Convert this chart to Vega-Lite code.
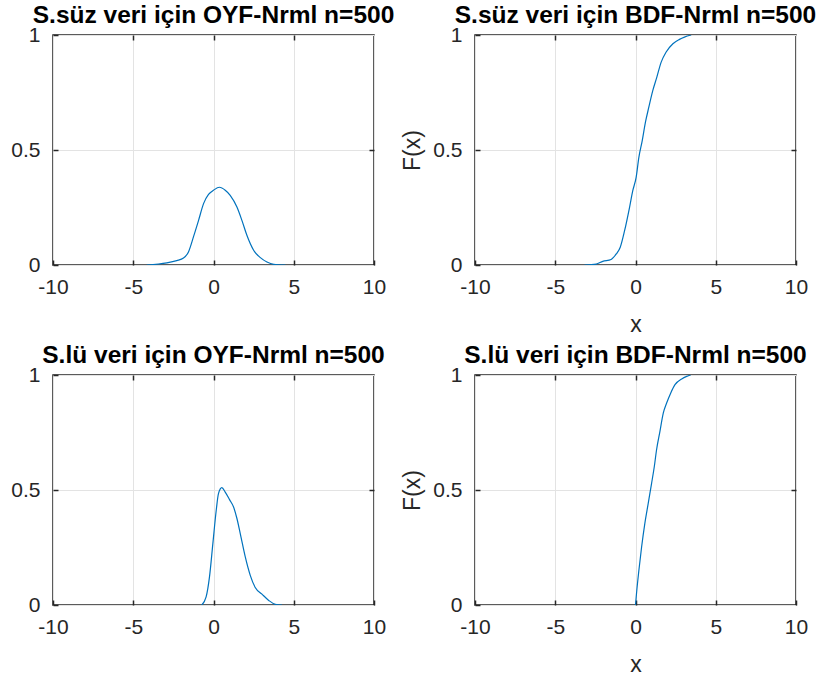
{
  "$schema": "https://vega.github.io/schema/vega-lite/v6.json",
  "autosize": {"type": "none"},
  "padding": {"left": 53, "top": 35, "right": 766, "bottom": 645},
  "background": "white",
  "datasets": {
    "pdf1": [
      {"x": -4.16, "y": 0}, {"x": -2.91, "y": 0.009}, {"x": -2.29, "y": 0.019}, {"x": -1.87, "y": 0.03},
      {"x": -1.56, "y": 0.057}, {"x": -1.25, "y": 0.122}, {"x": -0.93, "y": 0.194}, {"x": -0.62, "y": 0.267},
      {"x": -0.31, "y": 0.307}, {"x": 0.0, "y": 0.325}, {"x": 0.37, "y": 0.338}, {"x": 0.73, "y": 0.325},
      {"x": 1.04, "y": 0.303}, {"x": 1.46, "y": 0.252}, {"x": 1.77, "y": 0.194}, {"x": 2.08, "y": 0.129},
      {"x": 2.5, "y": 0.064}, {"x": 2.92, "y": 0.032}, {"x": 3.33, "y": 0.013}, {"x": 3.75, "y": 0.003},
      {"x": 4.48, "y": 0}
    ],
    "cdf1": [
      {"x": -3.18, "y": 0}, {"x": -2.45, "y": 0.004}, {"x": -2.04, "y": 0.016}, {"x": -1.52, "y": 0.024},
      {"x": -1.2, "y": 0.048}, {"x": -0.95, "y": 0.077}, {"x": -0.68, "y": 0.149}, {"x": -0.37, "y": 0.251},
      {"x": -0.17, "y": 0.323}, {"x": 0.04, "y": 0.381}, {"x": 0.21, "y": 0.468}, {"x": 0.42, "y": 0.541},
      {"x": 0.62, "y": 0.621}, {"x": 0.83, "y": 0.686}, {"x": 1.08, "y": 0.759}, {"x": 1.33, "y": 0.817},
      {"x": 1.6, "y": 0.882}, {"x": 1.91, "y": 0.926}, {"x": 2.33, "y": 0.962}, {"x": 2.74, "y": 0.981},
      {"x": 3.05, "y": 0.991}, {"x": 3.47, "y": 1.0}
    ],
    "pdf2": [
      {"x": -0.73, "y": 0}, {"x": -0.46, "y": 0.035}, {"x": -0.25, "y": 0.122}, {"x": -0.04, "y": 0.267},
      {"x": 0.17, "y": 0.412}, {"x": 0.31, "y": 0.484}, {"x": 0.52, "y": 0.51}, {"x": 0.73, "y": 0.491},
      {"x": 1.0, "y": 0.458}, {"x": 1.25, "y": 0.426}, {"x": 1.46, "y": 0.376}, {"x": 1.71, "y": 0.296},
      {"x": 1.98, "y": 0.209}, {"x": 2.29, "y": 0.129}, {"x": 2.6, "y": 0.076}, {"x": 3.02, "y": 0.047},
      {"x": 3.44, "y": 0.02}, {"x": 3.85, "y": 0.003}, {"x": 4.27, "y": 0}
    ],
    "cdf2": [
      {"x": 0.0, "y": 0}, {"x": 0.06, "y": 0.048}, {"x": 0.21, "y": 0.15}, {"x": 0.38, "y": 0.252},
      {"x": 0.58, "y": 0.354}, {"x": 0.79, "y": 0.441}, {"x": 1.0, "y": 0.528}, {"x": 1.17, "y": 0.601},
      {"x": 1.31, "y": 0.674}, {"x": 1.52, "y": 0.754}, {"x": 1.73, "y": 0.834}, {"x": 1.94, "y": 0.878},
      {"x": 2.19, "y": 0.921}, {"x": 2.46, "y": 0.958}, {"x": 2.88, "y": 0.983}, {"x": 3.19, "y": 0.994},
      {"x": 3.44, "y": 1.0}
    ]
  },
  "config": {
    "font": "Liberation Sans",
    "view": {"stroke": "#262626", "strokeWidth": 1.5},
    "axis": {
      "grid": true,
      "gridColor": "#e3e3e3",
      "gridWidth": 1,
      "domain": false,
      "ticks": true,
      "tickSize": -5,
      "tickColor": "#262626",
      "tickWidth": 1.5,
      "labelFont": "Liberation Sans",
      "labelFontSize": 21,
      "labelColor": "#262626",
      "labelFlush": false,
      "labelOverlap": false,
      "labelExpr": "'' + datum.value",
      "titleFont": "Liberation Sans",
      "titleFontSize": 23,
      "titleFontWeight": "normal",
      "titleColor": "#262626"
    },
    "axisX": {"labelPadding": 16, "titlePadding": 16},
    "axisY": {"labelPadding": 18, "titlePadding": 8},
    "title": {"font": "Liberation Sans", "fontSize": 24.5, "fontWeight": "bold", "color": "#000000", "anchor": "middle", "frame": "group", "offset": -4},
    "line": {"color": "#0072BD", "strokeWidth": 1.2, "interpolate": "monotone"}
  },
  "columns": 2,
  "spacing": {"row": 110, "column": 101},
  "bounds": "flush",
  "concat": [
    {
      "title": "S.süz veri için OYF-Nrml n=500",
      "width": 321, "height": 230,
      "data": {"name": "pdf1"},
      "resolve": {"axis": {"x": "independent", "y": "independent"}},
      "layer": [
        {
          "mark": {"type": "line", "clip": true},
          "encoding": {
            "x": {"field": "x", "type": "quantitative", "scale": {"domain": [-10, 10], "nice": false}, "axis": {"values": [-10, -5, 0, 5, 10], "title": null}},
            "y": {"field": "y", "type": "quantitative", "scale": {"domain": [0, 1], "nice": false}, "axis": {"values": [0, 0.5, 1], "title": null}}
          }
        },
        {
          "mark": {"type": "line", "opacity": 0, "clip": true},
          "encoding": {
            "x": {"field": "x", "type": "quantitative", "axis": {"orient": "top", "values": [-5, 0, 5], "labels": false, "grid": false, "title": null}},
            "y": {"field": "y", "type": "quantitative", "axis": {"orient": "right", "values": [0.5], "labels": false, "grid": false, "title": null}}
          }
        }
      ]
    },
    {
      "title": "S.süz veri için BDF-Nrml n=500",
      "width": 321, "height": 230,
      "data": {"name": "cdf1"},
      "resolve": {"axis": {"x": "independent", "y": "independent"}},
      "layer": [
        {
          "mark": {"type": "line", "clip": true},
          "encoding": {
            "x": {"field": "x", "type": "quantitative", "scale": {"domain": [-10, 10], "nice": false}, "axis": {"values": [-10, -5, 0, 5, 10], "title": "x"}},
            "y": {"field": "y", "type": "quantitative", "scale": {"domain": [0, 1], "nice": false}, "axis": {"values": [0, 0.5, 1], "title": "F(x)"}}
          }
        },
        {
          "mark": {"type": "line", "opacity": 0, "clip": true},
          "encoding": {
            "x": {"field": "x", "type": "quantitative", "axis": {"orient": "top", "values": [-5, 0, 5], "labels": false, "grid": false, "title": null}},
            "y": {"field": "y", "type": "quantitative", "axis": {"orient": "right", "values": [0.5], "labels": false, "grid": false, "title": null}}
          }
        }
      ]
    },
    {
      "title": "S.lü veri için OYF-Nrml n=500",
      "width": 321, "height": 230,
      "data": {"name": "pdf2"},
      "resolve": {"axis": {"x": "independent", "y": "independent"}},
      "layer": [
        {
          "mark": {"type": "line", "clip": true},
          "encoding": {
            "x": {"field": "x", "type": "quantitative", "scale": {"domain": [-10, 10], "nice": false}, "axis": {"values": [-10, -5, 0, 5, 10], "title": null}},
            "y": {"field": "y", "type": "quantitative", "scale": {"domain": [0, 1], "nice": false}, "axis": {"values": [0, 0.5, 1], "title": null}}
          }
        },
        {
          "mark": {"type": "line", "opacity": 0, "clip": true},
          "encoding": {
            "x": {"field": "x", "type": "quantitative", "axis": {"orient": "top", "values": [-5, 0, 5], "labels": false, "grid": false, "title": null}},
            "y": {"field": "y", "type": "quantitative", "axis": {"orient": "right", "values": [0.5], "labels": false, "grid": false, "title": null}}
          }
        }
      ]
    },
    {
      "title": "S.lü veri için BDF-Nrml n=500",
      "width": 321, "height": 230,
      "data": {"name": "cdf2"},
      "resolve": {"axis": {"x": "independent", "y": "independent"}},
      "layer": [
        {
          "mark": {"type": "line", "clip": true},
          "encoding": {
            "x": {"field": "x", "type": "quantitative", "scale": {"domain": [-10, 10], "nice": false}, "axis": {"values": [-10, -5, 0, 5, 10], "title": "x"}},
            "y": {"field": "y", "type": "quantitative", "scale": {"domain": [0, 1], "nice": false}, "axis": {"values": [0, 0.5, 1], "title": "F(x)"}}
          }
        },
        {
          "mark": {"type": "line", "opacity": 0, "clip": true},
          "encoding": {
            "x": {"field": "x", "type": "quantitative", "axis": {"orient": "top", "values": [-5, 0, 5], "labels": false, "grid": false, "title": null}},
            "y": {"field": "y", "type": "quantitative", "axis": {"orient": "right", "values": [0.5], "labels": false, "grid": false, "title": null}}
          }
        }
      ]
    }
  ]
}
